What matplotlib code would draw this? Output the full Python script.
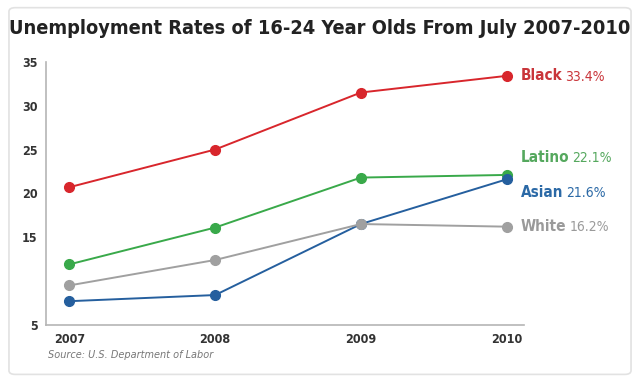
import matplotlib
matplotlib.use("Agg")
import matplotlib.pyplot as plt
from matplotlib.patches import FancyBboxPatch

years = [2007, 2008, 2009, 2010]
groups = ["Black", "Latino", "Asian", "White"]
black = [20.7, 25.0, 31.5, 33.4]
latino = [11.9, 16.1, 21.8, 22.1]
asian = [7.7, 8.4, 16.5, 21.6]
white = [9.5, 12.4, 16.5, 16.2]
final_labels = ["33.4%", "22.1%", "21.6%", "16.2%"]
yticks = [5, 15, 20, 25, 30, 35]

series = [black, latino, asian, white]
line_colors = ["#d8262c", "#39a94a", "#255f9e", "#a0a0a0"]
text_colors = ["#c9353a", "#55a85e", "#2b69a6", "#9a9a9a"]
label_offsets = [0, 2.0, -1.5, 0.0]  # vertical offset of label (data units) from final point

fig = plt.figure(figsize=(6.4, 3.84), dpi=100)
fig.patch.set_facecolor("white")
frame = FancyBboxPatch((0.014, 0.025), 0.972, 0.955, boxstyle="round,pad=0,rounding_size=0.01",
                       transform=fig.transFigure, facecolor="white", edgecolor="#e2e2e2", lw=1.2,
                       zorder=-10)
fig.patches.append(frame)

fig.text(0.5, 0.925, "Unemployment Rates of 16-24 Year Olds From July 2007-2010",
         ha="center", va="center", fontsize=14.3, fontweight="bold", color="#222222",
         family="DejaVu Sans", stretch="condensed")

ax = fig.add_axes([0.072, 0.154, 0.747, 0.685])
ax.set_zorder(5)
ax.patch.set_alpha(0)
for vals, c in zip(series, line_colors):
    ax.plot(years, vals, color=c, lw=1.4, marker="o", markersize=7, clip_on=False, zorder=3)

ax.set_xlim(2006.84, 2010.12)
ax.set_ylim(5, 35)
ax.set_xticks(years)
ax.set_xticklabels([str(y) for y in years])
ax.set_yticks(yticks)
for s in ["top", "right"]:
    ax.spines[s].set_visible(False)
for s in ["left", "bottom"]:
    ax.spines[s].set_color("#b5b5b5")
    ax.spines[s].set_linewidth(1.2)
ax.tick_params(length=0, labelsize=9, colors="#333333", pad=6)
for lab in ax.get_xticklabels() + ax.get_yticklabels():
    lab.set_fontweight("bold")
    lab.set_stretch("condensed")

fig.canvas.draw()
renderer = fig.canvas.get_renderer()
for name, vals, pct, c, off in zip(groups, series, final_labels, text_colors, label_offsets):
    y = vals[-1] + off
    t = ax.annotate(name, xy=(years[-1], y), xytext=(10, 0), textcoords="offset points",
                    ha="left", va="center", fontsize=11, fontweight="bold", color=c,
                    stretch="condensed", annotation_clip=False)
    bb = t.get_window_extent(renderer)
    fig.text(bb.x1 / fig.dpi / 6.4 + 0.005, (bb.y0 + bb.y1) / 2 / fig.dpi / 3.84 - 0.002, pct,
             ha="left", va="center", fontsize=10, color=c, stretch="condensed")

fig.text(0.075, 0.075, "Source: U.S. Department of Labor", ha="left", va="center",
         fontsize=7, style="italic", color="#777777")

fig.savefig("out.png", dpi=100)
